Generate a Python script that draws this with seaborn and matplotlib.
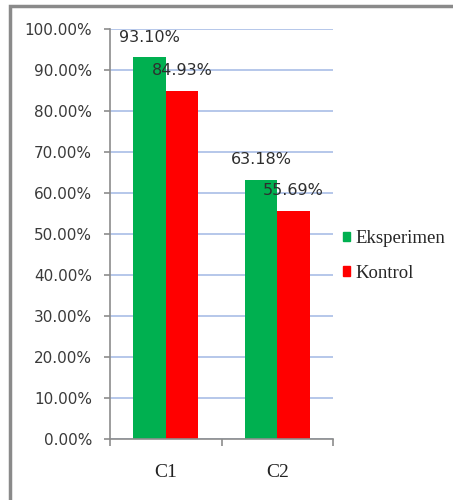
import matplotlib
matplotlib.use("Agg")
import matplotlib.pyplot as plt
from matplotlib.patches import Rectangle
from matplotlib.ticker import FuncFormatter, FixedLocator
import seaborn as sns
import pandas as pd

categories = ["C1", "C2"]
groups = ["Eksperimen", "Kontrol"]
eksperimen = [93.10, 63.18]
kontrol = [84.93, 55.69]
colors = {"Eksperimen": "#00b050", "Kontrol": "#ff0000"}

df = pd.DataFrame({
    "kategori": categories * 2,
    "kelompok": [groups[0]] * len(categories) + [groups[1]] * len(categories),
    "nilai": eksperimen + kontrol,
})

sns.set_style("white")
fig = plt.figure(figsize=(4.53, 5.00), dpi=100)
ax = fig.add_axes([110 / 453, 61 / 500, 223 / 453, 410 / 500])

sns.barplot(data=df, x="kategori", y="nilai", hue="kelompok", palette=colors,
            width=0.58, saturation=1, ax=ax, legend=False, errorbar=None,
            edgecolor="none", linewidth=0)

ax.set_ylim(0, 100)
ax.set_xlim(-0.5, 1.5)
ax.set_yticks(range(0, 101, 10))
ax.yaxis.set_major_formatter(FuncFormatter(lambda v, p: f"{v:.2f}%"))
ax.grid(axis="y", color="#a9bde6", linewidth=1.2)
ax.set_axisbelow(True)
ax.set_xlabel("")
ax.set_ylabel("")

for side in ["top", "right"]:
    ax.spines[side].set_visible(False)
for side in ["left", "bottom"]:
    ax.spines[side].set_color("#8c8c8c")
    ax.spines[side].set_linewidth(1.2)

ax.tick_params(axis="y", direction="out", length=4, width=1.2, color="#8c8c8c",
               labelsize=11, labelcolor="#3a3a3a", pad=9, left=True)
for t in ax.get_yticklabels():
    t.set_fontfamily("DejaVu Sans")

ax.xaxis.set_minor_locator(FixedLocator([-0.5, 0.5, 1.5]))
ax.tick_params(axis="x", which="minor", direction="out", length=5, width=1.2,
               color="#8c8c8c", bottom=True)
ax.tick_params(axis="x", which="major", length=0, pad=18, labelsize=14,
               labelcolor="#222222")
for t in ax.get_xticklabels():
    t.set_fontfamily("Liberation Serif")

# value labels above each bar
for cont in ax.containers:
    for bar in cont:
        h = bar.get_height()
        ax.annotate(f"{h:.2f}%", (bar.get_x() + bar.get_width() / 2, h),
                    xytext=(0, 20), textcoords="offset pixels",
                    ha="center", va="center", fontsize=11.5,
                    color="#2e2e2e", family="DejaVu Sans")

# legend
handles = [Rectangle((0, 0), 1, 1, color=colors[g]) for g in groups]
fig.legend(handles, groups, loc="center left", bbox_to_anchor=(326 / 453, 1 - 256 / 500),
           frameon=False, handlelength=0.4, handleheight=0.4, handletextpad=0.25,
           labelspacing=0.95, prop={"family": "Liberation Serif", "size": 13.5})

# outer frame of the chart area
fig.patches.append(Rectangle((10 / 453, -0.1), 1.2, 1.1 - 6 / 500,
                             transform=fig.transFigure, fill=False,
                             edgecolor="#8a8a8a", linewidth=2.5, zorder=0))

fig.savefig("out.png", dpi=100)
